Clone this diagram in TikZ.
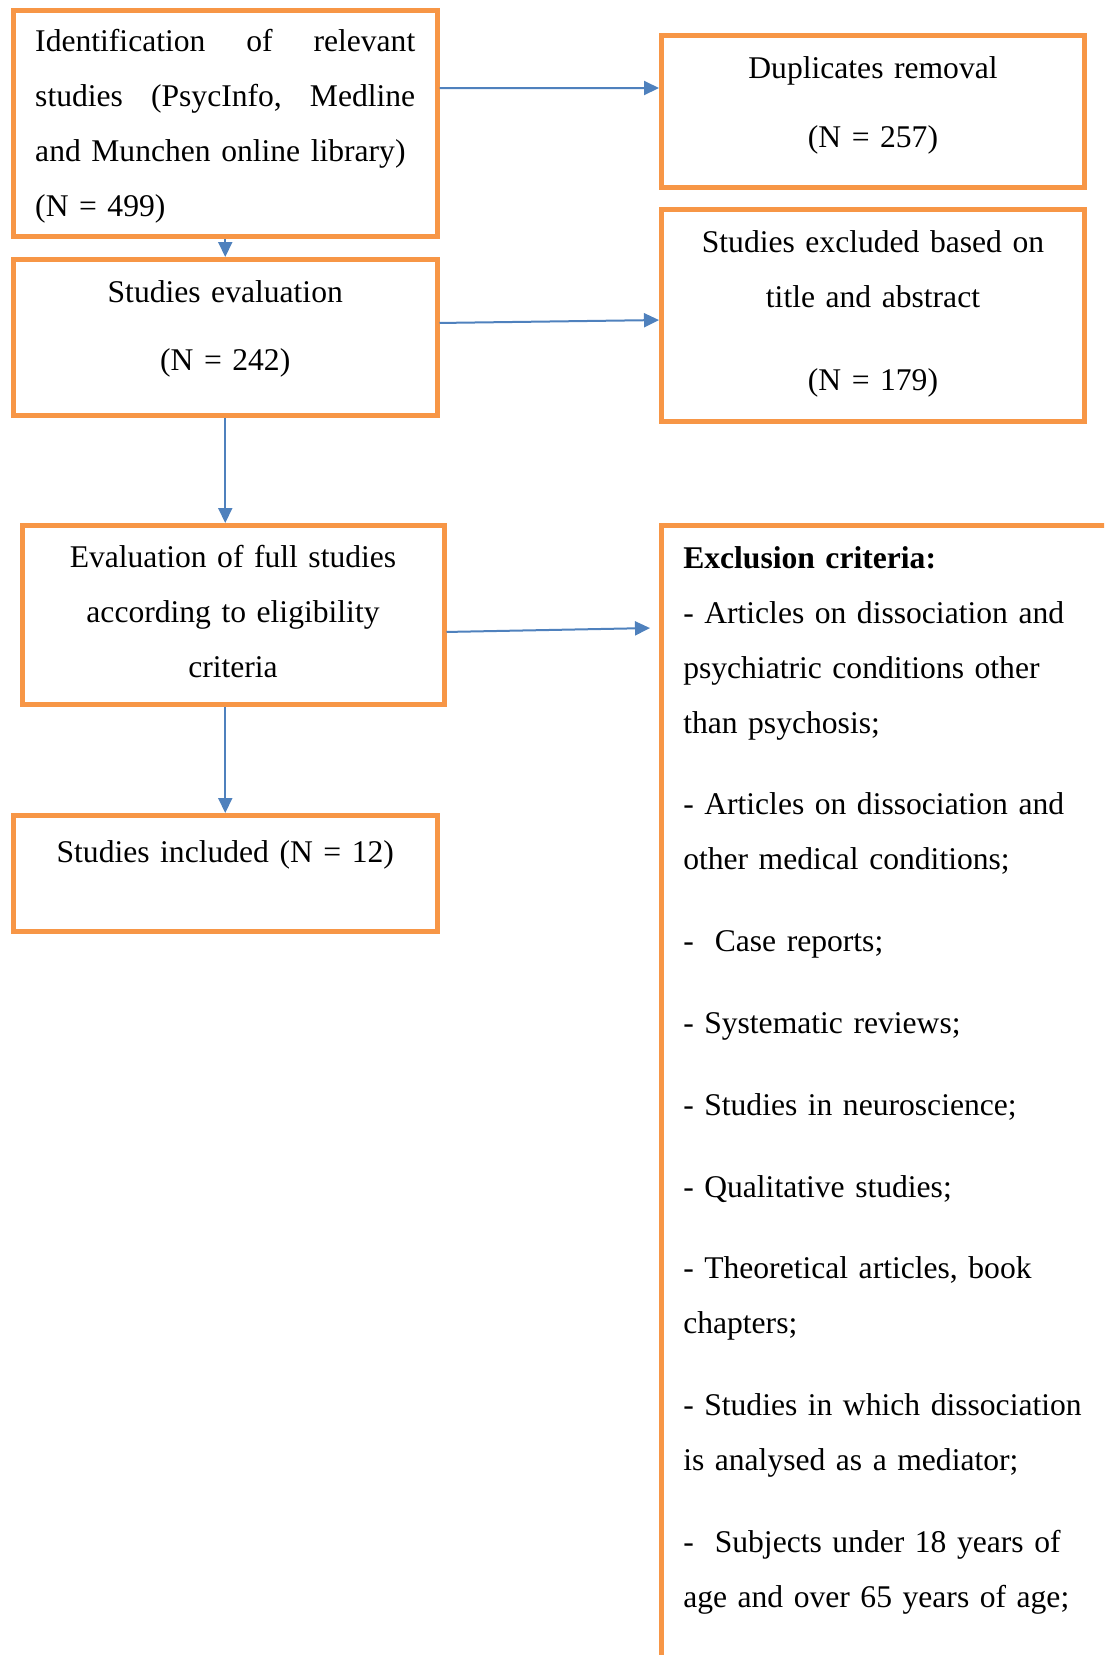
\documentclass[tikz,border=0pt]{standalone}
\usepackage{fontspec}
\setmainfont{Liberation Serif}
\usetikzlibrary{arrows.meta}
\definecolor{boxorange}{HTML}{F79646}
\definecolor{arrowblue}{HTML}{4F81BD}
\newcommand{\flowfont}{\fontsize{15.8}{27.5}\selectfont\spaceskip=0.2em plus 0.1em\relax}

\begin{document}
\begin{tikzpicture}[x=0.5pt,y=-0.5pt]

\tikzset{flowbox/.style={draw=boxorange, line width=2.5pt, anchor=north west, outer sep=0pt, inner xsep=10.875pt, inner ysep=0pt, font=\flowfont}}
\tikzset{flowarrow/.style={draw=arrowblue, line width=1pt, -{Triangle[length=7.5pt,width=7pt]}, shorten <=1.25pt, shorten >=1.25pt}}

\useasboundingbox (0,0) rectangle (1104,1655);
\clip (0,0) rectangle (1104,1655);

\node[flowbox, text width=190pt, align=left, text height=20.85pt, text depth=92.4pt] (ident) at (13.5,10) {Identification\hfill of\hfill relevant\\ studies\hfill (PsycInfo,\hfill Medline\\ and Munchen online library)\\ (N = 499)};
\node[flowbox, text width=189.75pt, align=center, text height=21.25pt, text depth=54.75pt] (dupl) at (661.5,35.5) {Duplicates removal\\[7pt] (N = 257)};
\node[flowbox, text width=190pt, align=center, text height=21.25pt, text depth=56.75pt] (evalst) at (13.5,259.5) {Studies evaluation\\[6.5pt] (N = 242)};
\node[flowbox, text width=189.75pt, align=center, text height=21.25pt, text depth=84.75pt] (excl) at (661.5,209.5) {Studies excluded based on\\ title and abstract\\[14pt] (N = 179)};
\node[flowbox, text width=189.25pt, align=center, text height=20.75pt, text depth=68.75pt] (full) at (22,525.5) {Evaluation of full studies\\ according to eligibility\\ criteria};
\node[flowbox, text width=207.5pt, align=left, text height=21.25pt, text depth=556pt] (crit) at (661.5,525.5) {\textbf{Exclusion criteria:}\\
- Articles on dissociation and\\
psychiatric conditions other\\
than psychosis;\\[13.4pt]
- Articles on dissociation and\\
other medical conditions;\\[13.4pt]
-\ \ Case reports;\\[13.4pt]
- Systematic reviews;\\[13.4pt]
- Studies in neuroscience;\\[13.4pt]
- Qualitative studies;\\[13.4pt]
- Theoretical articles, book\\
chapters;\\[13.4pt]
- Studies in which dissociation\\
is analysed as a mediator;\\[13.4pt]
-\ \ Subjects under 18 years of\\
age and over 65 years of age;};
\node[flowbox, text width=190pt, align=center, text height=23.25pt, text depth=34.75pt] (incl) at (13.5,815.5) {Studies included (N = 12)};

\coordinate (critin) at (652.5,628);

\draw[flowarrow] ([yshift=17.6pt]ident.east) -- ([yshift=11.75pt]dupl.west);
\draw[flowarrow] (ident.south) -- (evalst.north);
\draw[flowarrow] ([yshift=7.25pt]evalst.east) -- ([yshift=-2.25pt]excl.west);
\draw[flowarrow] (evalst.south) -- (evalst.south |- full.north);
\draw[flowarrow] ([yshift=-8.5pt]full.east) -- (critin);
\draw[flowarrow] (full.south -| incl.north) -- (incl.north);

\end{tikzpicture}
\end{document}
